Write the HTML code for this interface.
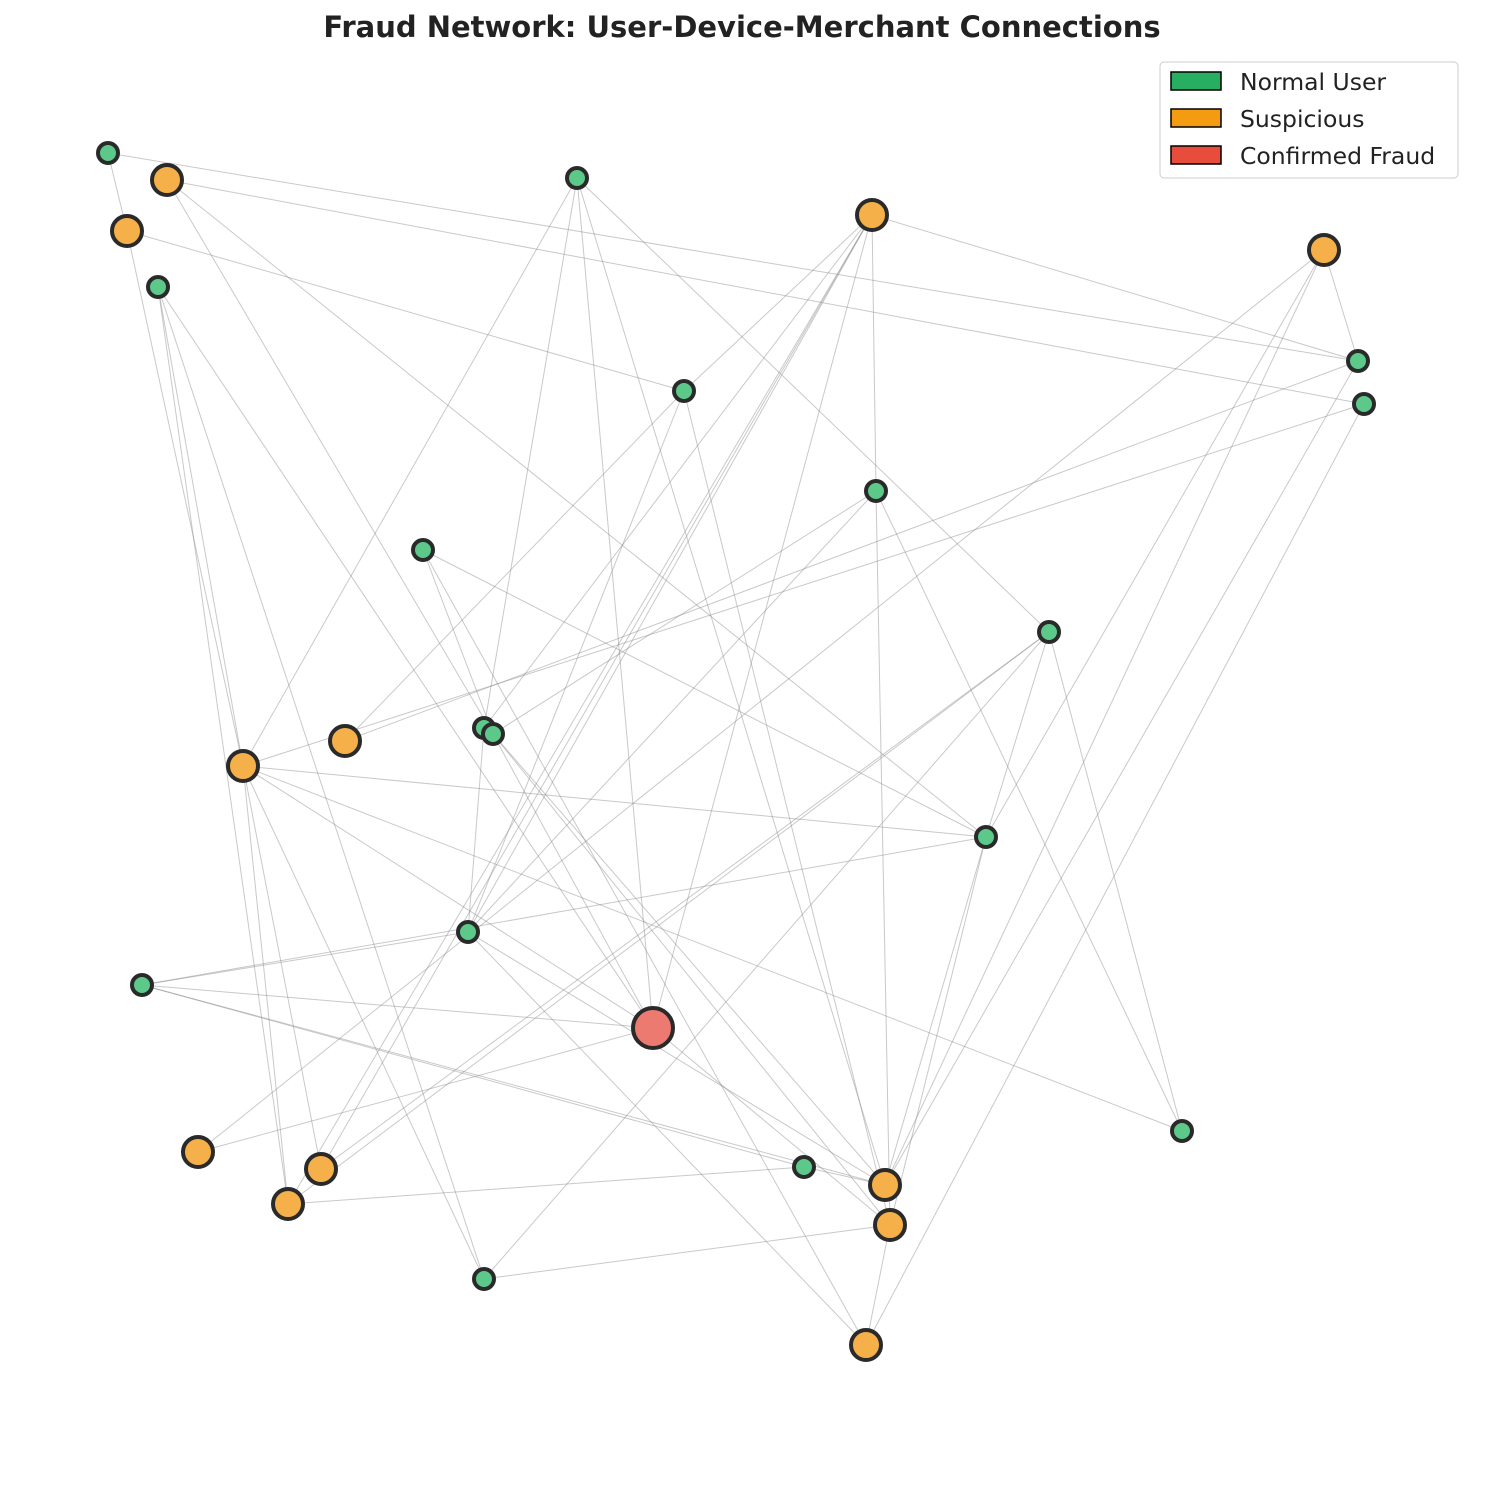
<!DOCTYPE html>
<html><head><meta charset="utf-8"><style>
body{margin:0;background:#fff;}
svg{display:block;font-family:"DejaVu Sans","Liberation Sans",sans-serif;}
</style></head><body>
<svg width="1485" height="1485" viewBox="0 0 1485 1485">
<text x="742" y="37" text-anchor="middle" font-size="29" font-weight="bold" fill="#222">Fraud Network: User-Device-Merchant Connections</text>
<g id="edges" stroke="#888" stroke-opacity="0.45" stroke-width="1"></g>
<g id="nodes"></g>
<g>
<rect x="1160" y="62" width="298" height="116" rx="4" fill="#fff" stroke="#ccc"/>
<rect x="1171" y="72" width="50" height="18" fill="#27ae60" stroke="#000" stroke-width="1.5"/>
<text x="1240" y="90" font-size="23.5" fill="#222">Normal User</text>
<rect x="1171" y="109" width="50" height="18" fill="#f39c12" stroke="#000" stroke-width="1.5"/>
<text x="1240" y="127" font-size="23.5" fill="#222">Suspicious</text>
<rect x="1171" y="146" width="50" height="18" fill="#e74c3c" stroke="#000" stroke-width="1.5"/>
<text x="1240" y="164" font-size="23.5" fill="#222">Confirmed Fraud</text>
</g>
</svg>
<script>
var N={G1:[108,153,'g'],O1:[167,180,'o'],O2:[127,231,'o'],G2:[158,287,'g'],G3:[577,178,'g'],O3:[872,215,'o'],O4:[1324,250,'o'],G4:[1358,361,'g'],G5:[1364,404,'g'],G6:[684,391,'g'],G7:[876,491,'g'],G8:[423,550,'g'],G9:[1049,632,'g'],G10:[484,728,'g'],G11:[493,734,'g'],O5:[345,741,'o'],O6:[243,766,'o'],G12:[986,837,'g'],G13:[468,932,'g'],G14:[142,985,'g'],R:[653,1028,'r'],G15:[1182,1131,'g'],O7:[198,1152,'o'],O8:[321,1169,'o'],G16:[804,1167,'g'],O9:[885,1185,'o'],O10:[288,1204,'o'],O11:[890,1225,'o'],G17:[484,1279,'g'],O12:[866,1345,'o']};
var E="G1-O2 G1-G4 O1-G5 O1-G11 O1-G12 O2-G6 O2-O6 G2-O6 G2-O10 G2-G17 G2-R G3-O6 G3-G10 G3-R G3-O9 G3-G9 O3-G6 O3-G13 O3-O8 O3-O10 O3-R O3-G7 O3-G10 O3-G4 O4-G12 O4-O9 O4-G4 O4-O7 G4-O5 G4-O9 G5-O6 G5-O12 G6-O5 G6-O11 G6-G13 G7-G11 G7-G13 G7-G15 G7-O11 G8-G11 G8-G12 G9-G15 G9-G12 G9-O8 G9-O10 G9-G17 G11-O9 G11-O11 G11-R G10-G13 O6-G12 O6-O10 O6-O8 O6-G15 O6-R O6-G17 G12-O9 G12-O11 G12-G14 G14-R G14-G16 G14-O9 G14-G13 G13-O12 G13-O9 R-O7 R-O11 O10-G16 G17-O11 O12-O11 G16-O9 G8-O12".split(' ');
var ns='http://www.w3.org/2000/svg',eg=document.getElementById('edges'),ng=document.getElementById('nodes');
E.forEach(function(e){var p=e.split('-'),a=N[p[0]],b=N[p[1]];var l=document.createElementNS(ns,'line');l.setAttribute('x1',a[0]);l.setAttribute('y1',a[1]);l.setAttribute('x2',b[0]);l.setAttribute('y2',b[1]);eg.appendChild(l);});
var C={g:['#5cc98a',10],o:['#f5b04a',15],r:['#ec7a70',20]};
for(var k in N){var n=N[k],c=document.createElementNS(ns,'circle');c.setAttribute('cx',n[0]);c.setAttribute('cy',n[1]);c.setAttribute('r',C[n[2]][1]);c.setAttribute('fill',C[n[2]][0]);c.setAttribute('stroke','#2a2a2a');c.setAttribute('stroke-width','4');ng.appendChild(c);}
</script>
</body></html>
